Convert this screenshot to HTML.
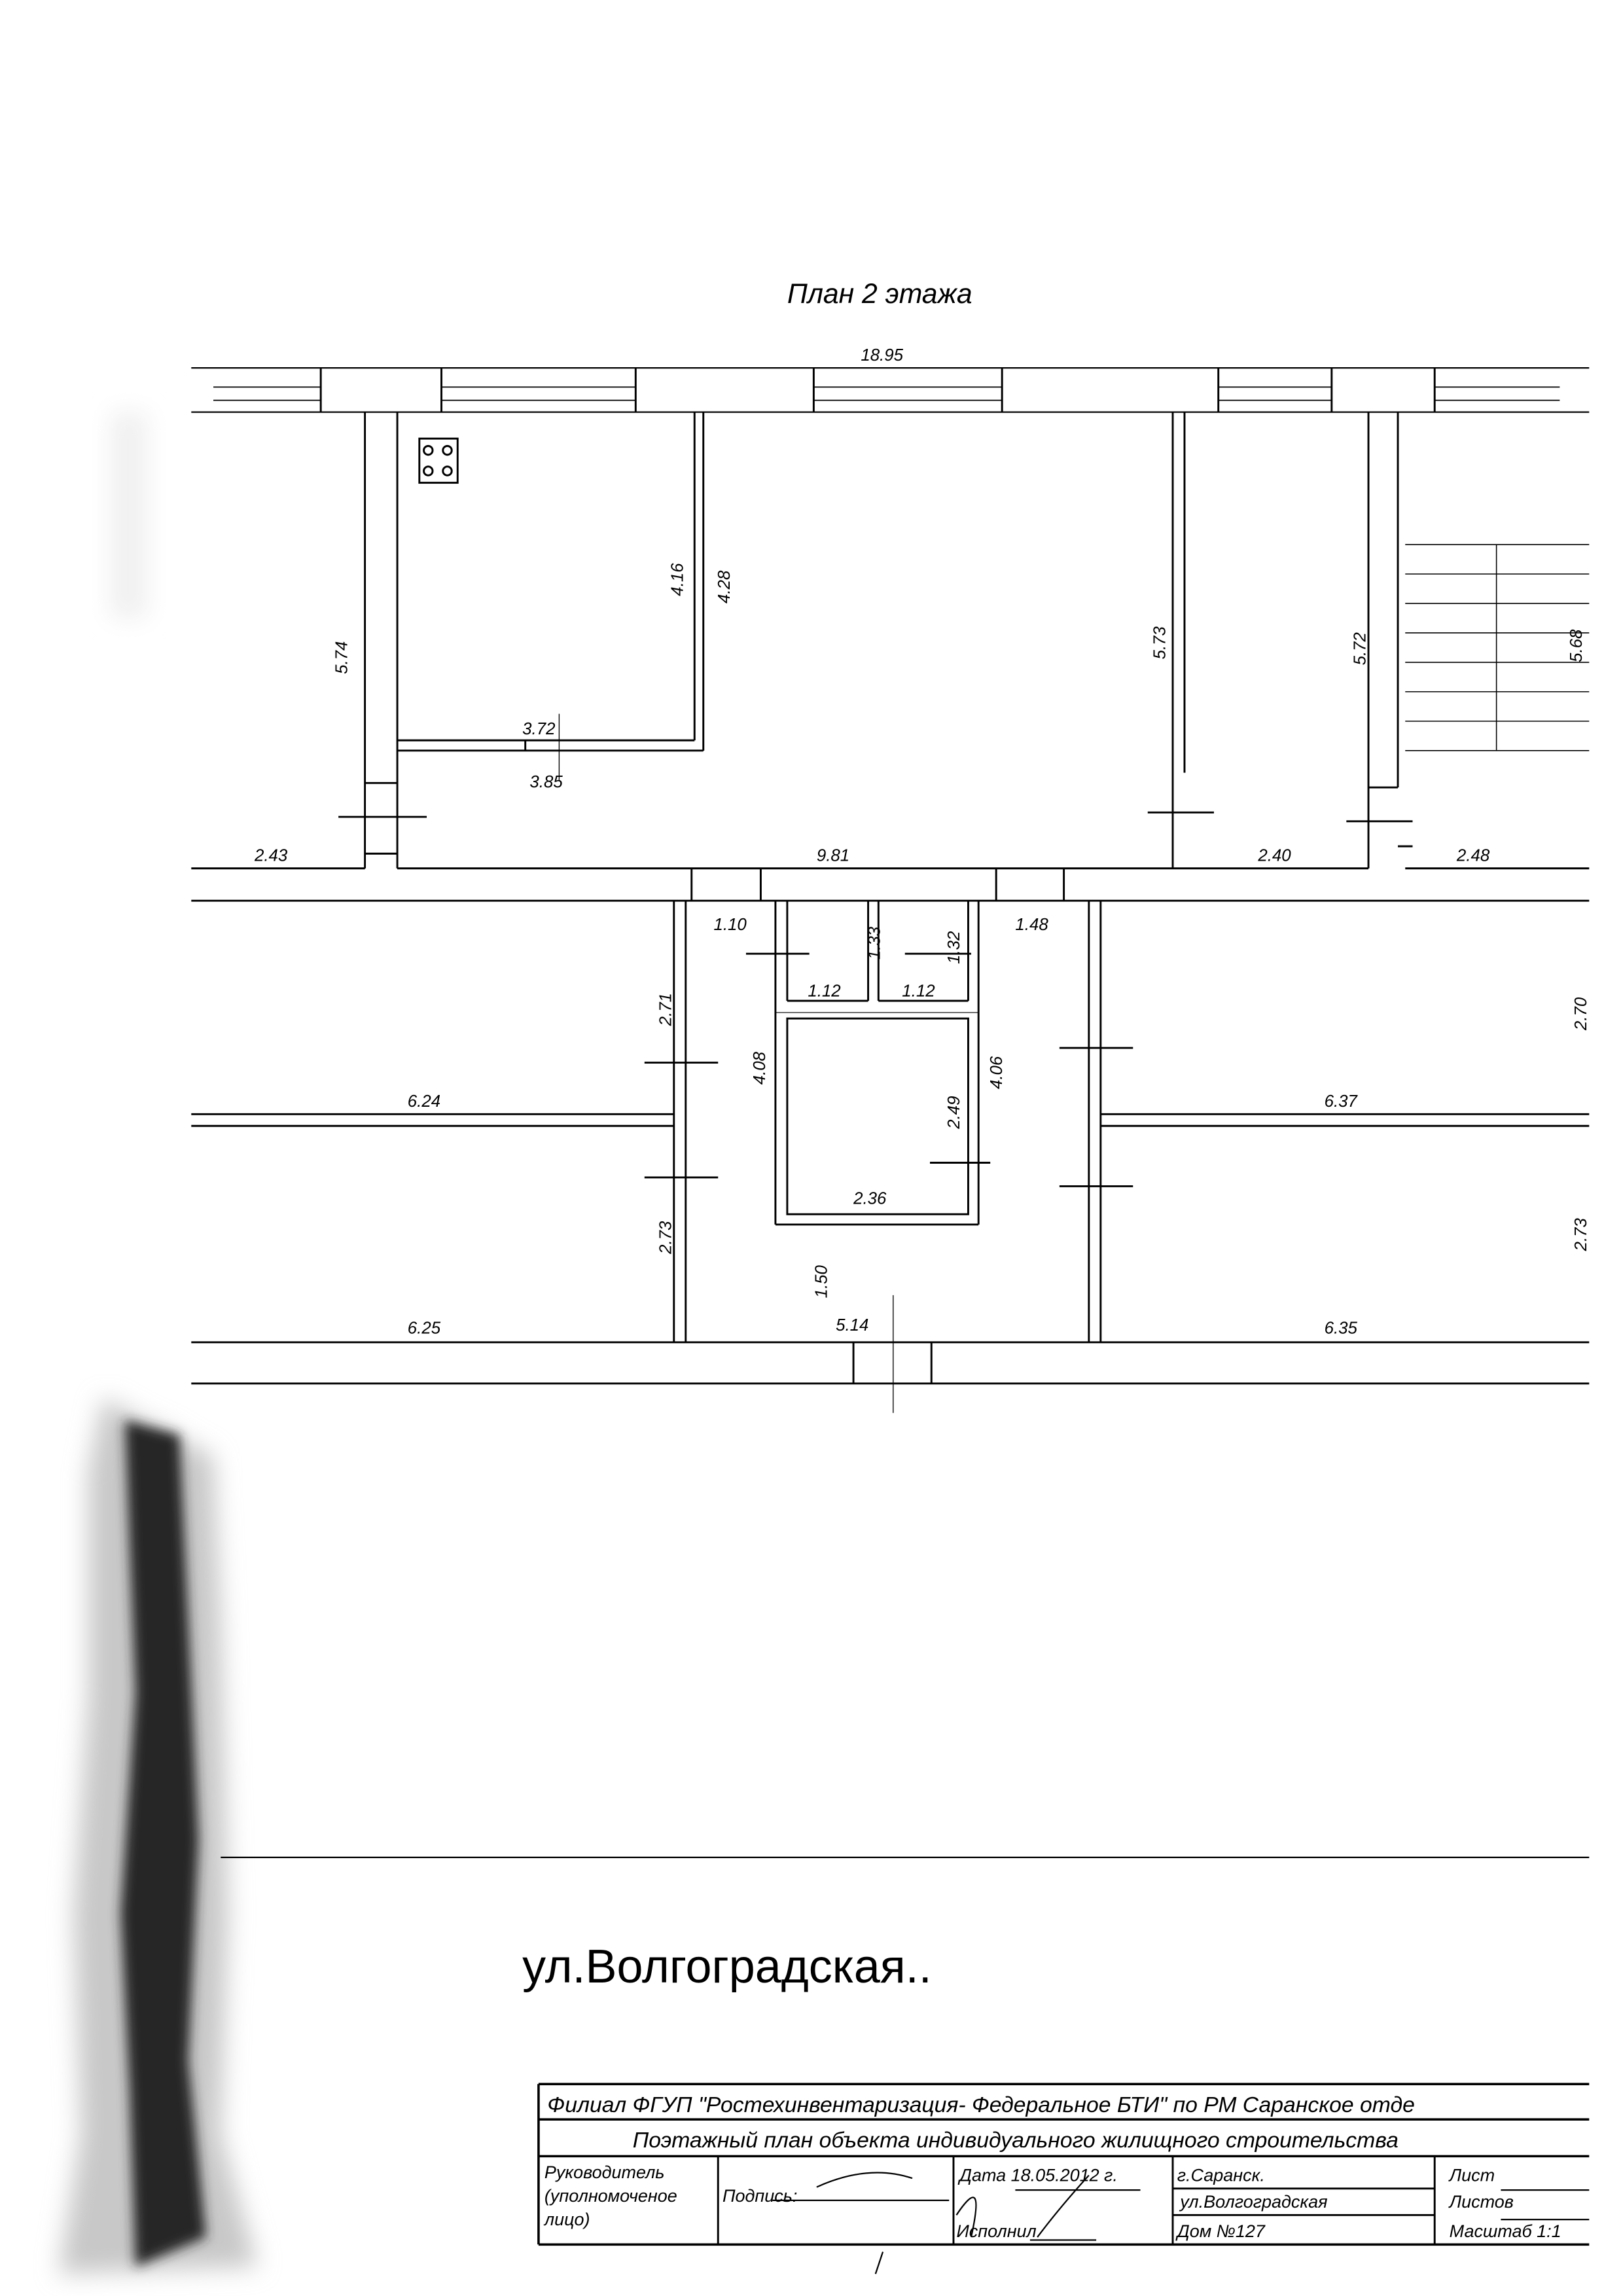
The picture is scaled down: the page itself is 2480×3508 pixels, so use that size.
<!DOCTYPE html>
<html><head><meta charset="utf-8"><style>
html,body{margin:0;padding:0;background:#fff;}
svg{display:block;}
text{font-family:"Liberation Sans",sans-serif;fill:#000;}
.d{font-size:11.5px;font-style:italic;}
.tb{font-size:15px;font-style:italic;}
</style></head><body>
<svg width="2480" height="3508" viewBox="0 0 1103 1560" preserveAspectRatio="none" xmlns="http://www.w3.org/2000/svg">
<defs>
<filter id="bl" x="-50%" y="-10%" width="200%" height="120%"><feGaussianBlur stdDeviation="8"/></filter>
<filter id="bl2" x="-50%" y="-10%" width="200%" height="120%"><feGaussianBlur stdDeviation="4"/></filter>
</defs>
<rect width="1103" height="1560" fill="#fff"/>
<!-- smear -->
<path d="M70,950 C90,960 95,965 110,970 L145,990 L150,1100 L155,1300 L150,1450 L175,1540 L40,1545 L55,1450 L50,1300 L60,1150 L60,1000 Z" fill="#c8c8c8" filter="url(#bl)"/>
<path d="M85,965 L122,975 L128,1100 L135,1250 L128,1400 L140,1520 L92,1540 L88,1420 L82,1300 L92,1150 L88,1050 Z" fill="#282828" filter="url(#bl2)"/>
<path d="M75,280 L100,280 L100,420 L75,420 Z" fill="#f0f0f0" filter="url(#bl)"/>

<g stroke="#000" fill="none" stroke-width="1.3">
<line x1="130" y1="250" x2="1080" y2="250" stroke-width="1"/>
<line x1="130" y1="280" x2="1080" y2="280" stroke-width="1"/>
<line x1="145" y1="263" x2="218" y2="263" stroke-width="0.8"/><line x1="145" y1="272" x2="218" y2="272" stroke-width="0.8"/>
<line x1="300" y1="263" x2="432" y2="263" stroke-width="0.8"/><line x1="300" y1="272" x2="432" y2="272" stroke-width="0.8"/>
<line x1="553" y1="263" x2="681" y2="263" stroke-width="0.8"/><line x1="553" y1="272" x2="681" y2="272" stroke-width="0.8"/>
<line x1="828" y1="263" x2="905" y2="263" stroke-width="0.8"/><line x1="828" y1="272" x2="905" y2="272" stroke-width="0.8"/>
<line x1="975" y1="263" x2="1060" y2="263" stroke-width="0.8"/><line x1="975" y1="272" x2="1060" y2="272" stroke-width="0.8"/>
<line x1="218" y1="250" x2="218" y2="280"/><line x1="300" y1="250" x2="300" y2="280"/>
<line x1="432" y1="250" x2="432" y2="280"/><line x1="553" y1="250" x2="553" y2="280"/>
<line x1="681" y1="250" x2="681" y2="280"/><line x1="828" y1="250" x2="828" y2="280"/>
<line x1="905" y1="250" x2="905" y2="280"/><line x1="975" y1="250" x2="975" y2="280"/>
<line x1="248" y1="280" x2="248" y2="590"/><line x1="270" y1="280" x2="270" y2="590"/>
<line x1="248" y1="532" x2="270" y2="532"/><line x1="248" y1="580" x2="270" y2="580"/>
<line x1="230" y1="555" x2="290" y2="555"/>
<line x1="472" y1="280" x2="472" y2="503"/><line x1="478" y1="280" x2="478" y2="510"/>
<line x1="270" y1="503" x2="472" y2="503"/><line x1="270" y1="510" x2="478" y2="510"/>
<line x1="357" y1="503" x2="357" y2="510"/><line x1="380" y1="485" x2="380" y2="530" stroke-width="0.6"/>
<rect x="285" y="298" width="26" height="30"/>
<circle cx="291" cy="306" r="3"/><circle cx="304" cy="306" r="3"/>
<circle cx="291" cy="320" r="3"/><circle cx="304" cy="320" r="3"/>
<line x1="797" y1="280" x2="797" y2="590"/><line x1="805" y1="280" x2="805" y2="525"/>
<line x1="780" y1="552" x2="825" y2="552"/>
<line x1="930" y1="280" x2="930" y2="590"/><line x1="950" y1="280" x2="950" y2="535"/>
<line x1="930" y1="535" x2="950" y2="535"/><line x1="915" y1="558" x2="960" y2="558"/>
<line x1="950" y1="575" x2="960" y2="575"/>
<g stroke-width="0.7">
<line x1="955" y1="370" x2="1080" y2="370"/><line x1="955" y1="390" x2="1080" y2="390"/>
<line x1="955" y1="410" x2="1080" y2="410"/><line x1="955" y1="430" x2="1080" y2="430"/>
<line x1="955" y1="450" x2="1080" y2="450"/><line x1="955" y1="470" x2="1080" y2="470"/>
<line x1="955" y1="490" x2="1080" y2="490"/><line x1="955" y1="510" x2="1080" y2="510"/>
<line x1="1017" y1="370" x2="1017" y2="510"/>
</g>
<line x1="130" y1="590" x2="248" y2="590"/><line x1="270" y1="590" x2="930" y2="590"/>
<line x1="955" y1="590" x2="1080" y2="590"/>
<line x1="130" y1="612" x2="1080" y2="612"/>
<line x1="470" y1="590" x2="470" y2="612"/><line x1="517" y1="590" x2="517" y2="612"/>
<line x1="677" y1="590" x2="677" y2="612"/><line x1="723" y1="590" x2="723" y2="612"/>
<line x1="458" y1="612" x2="458" y2="912"/><line x1="466" y1="612" x2="466" y2="912"/>
<line x1="740" y1="612" x2="740" y2="912"/><line x1="748" y1="612" x2="748" y2="912"/>
<line x1="130" y1="757" x2="458" y2="757"/><line x1="130" y1="765" x2="458" y2="765"/>
<line x1="748" y1="757" x2="1080" y2="757"/><line x1="748" y1="765" x2="1080" y2="765"/>
<line x1="438" y1="722" x2="488" y2="722"/><line x1="438" y1="800" x2="488" y2="800"/>
<line x1="720" y1="712" x2="770" y2="712"/><line x1="720" y1="806" x2="770" y2="806"/>
<line x1="507" y1="648" x2="550" y2="648"/><line x1="615" y1="648" x2="660" y2="648"/>
<line x1="632" y1="790" x2="673" y2="790"/>
<line x1="527" y1="612" x2="527" y2="832"/><line x1="535" y1="612" x2="535" y2="680"/>
<line x1="590" y1="612" x2="590" y2="680"/><line x1="597" y1="612" x2="597" y2="680"/>
<line x1="658" y1="612" x2="658" y2="680"/><line x1="665" y1="612" x2="665" y2="832"/>
<line x1="535" y1="680" x2="590" y2="680"/><line x1="597" y1="680" x2="658" y2="680"/>
<line x1="527" y1="688" x2="665" y2="688" stroke-width="0.5"/>
<rect x="535" y="692" width="123" height="133"/>
<line x1="527" y1="832" x2="665" y2="832"/>
<line x1="130" y1="912" x2="1080" y2="912"/>
<line x1="130" y1="940" x2="1080" y2="940"/>
<line x1="580" y1="912" x2="580" y2="940"/><line x1="633" y1="912" x2="633" y2="940"/>
<line x1="607" y1="880" x2="607" y2="960" stroke-width="0.6"/>
<line x1="150" y1="1262" x2="1080" y2="1262" stroke-width="1"/>
<path d="M366,1416 L1080,1416 M366,1440 L1080,1440 M366,1465 L1080,1465 M366,1525 L1080,1525 M366,1416 L366,1525" stroke-width="1.6"/>
<path d="M488,1465 L488,1525 M648,1465 L648,1525 M797,1465 L797,1525 M975,1465 L975,1525 M797,1487 L975,1487 M797,1505 L975,1505"/>
<path d="M525,1495 L645,1495 M690,1488 L775,1488 M700,1522 L745,1522 M1020,1488 L1080,1488 M1020,1508 L1080,1508" stroke-width="1"/>
<path d="M555,1486 Q590,1470 620,1480 M650,1505 Q670,1475 660,1520 M705,1520 Q720,1500 740,1478 M600,1530 L595,1545" stroke-width="1"/>
</g>
<text x="535" y="206" font-size="19" font-style="italic">План 2 этажа</text>
<text x="585" y="245" class="d">18.95</text>
<text x="355" y="499" class="d">3.72</text>
<text x="360" y="535" class="d">3.85</text>
<text x="173" y="585" class="d">2.43</text>
<text x="555" y="585" class="d">9.81</text>
<text x="855" y="585" class="d">2.40</text>
<text x="990" y="585" class="d">2.48</text>
<g class="d">
<text transform="translate(236,458) rotate(-90)" class="d">5.74</text>
<text transform="translate(464,405) rotate(-90)" class="d">4.16</text>
<text transform="translate(496,410) rotate(-90)" class="d">4.28</text>
<text transform="translate(792,448) rotate(-90)" class="d">5.73</text>
<text transform="translate(928,452) rotate(-90)" class="d">5.72</text>
<text transform="translate(1075,450) rotate(-90)" class="d">5.68</text>
<text transform="translate(598,652) rotate(-90)" class="d">1.33</text>
<text transform="translate(652,655) rotate(-90)" class="d">1.32</text>
<text transform="translate(456,697) rotate(-90)" class="d">2.71</text>
<text transform="translate(520,737) rotate(-90)" class="d">4.08</text>
<text transform="translate(681,740) rotate(-90)" class="d">4.06</text>
<text transform="translate(652,767) rotate(-90)" class="d">2.49</text>
<text transform="translate(456,852) rotate(-90)" class="d">2.73</text>
<text transform="translate(562,882) rotate(-90)" class="d">1.50</text>
<text transform="translate(1078,700) rotate(-90)" class="d">2.70</text>
<text transform="translate(1078,850) rotate(-90)" class="d">2.73</text>
</g>
<text x="485" y="632" class="d">1.10</text>
<text x="690" y="632" class="d">1.48</text>
<text x="549" y="677" class="d">1.12</text>
<text x="613" y="677" class="d">1.12</text>
<text x="580" y="818" class="d">2.36</text>
<text x="277" y="752" class="d">6.24</text>
<text x="900" y="752" class="d">6.37</text>
<text x="277" y="906" class="d">6.25</text>
<text x="568" y="904" class="d">5.14</text>
<text x="900" y="906" class="d">6.35</text>
<text x="355" y="1347" font-size="32">ул.Волгоградская..</text>
<text x="372" y="1435" class="tb">Филиал ФГУП "Ростехинвентаризация- Федеральное БТИ" по РМ Саранское отде</text>
<text x="430" y="1459" class="tb">Поэтажный план объекта индивидуального жилищного строительства</text>
<g font-size="12" font-style="italic">
<text x="370" y="1480">Руководитель</text>
<text x="370" y="1496">(уполномоченое</text>
<text x="370" y="1512">лицо)</text>
<text x="491" y="1496">Подпись:</text>
<text x="652" y="1482">Дата 18.05.2012 г.</text>
<text x="650" y="1520">Исполнил</text>
<text x="800" y="1482">г.Саранск.</text>
<text x="802" y="1500">ул.Волгоградская</text>
<text x="800" y="1520">Дом №127</text>
<text x="985" y="1482">Лист</text>
<text x="985" y="1500">Листов</text>
<text x="985" y="1520">Масштаб 1:1</text>
</g>
</svg>
</body></html>
